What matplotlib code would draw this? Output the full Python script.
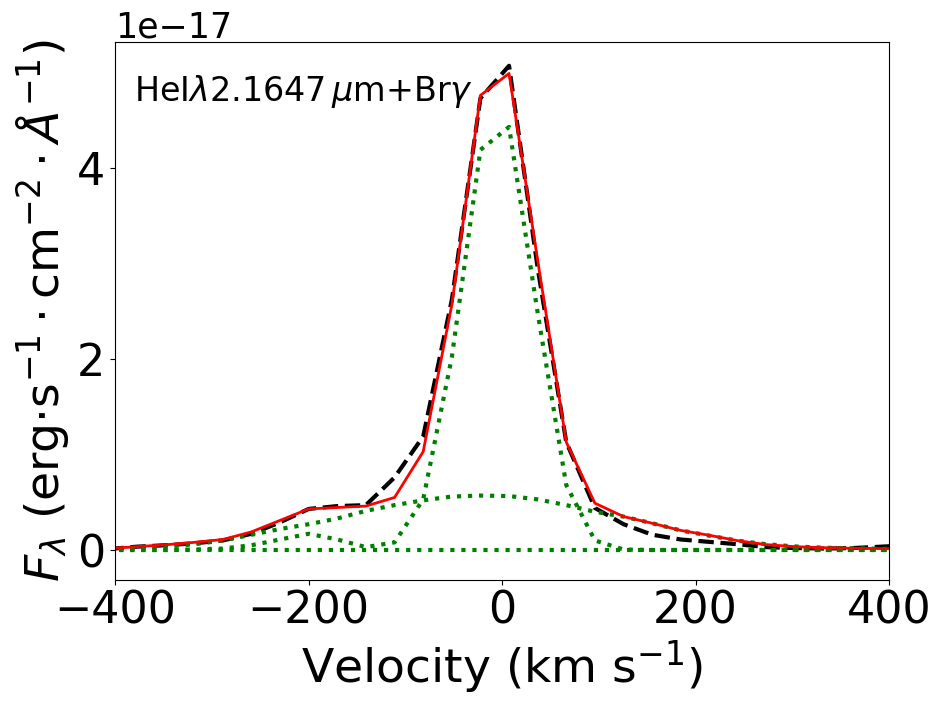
import numpy as np
import matplotlib
matplotlib.use('Agg')
import matplotlib.pyplot as plt

# velocity channels (km/s)
vel = [-406.8, -377.2, -347.6, -318.1, -288.5, -258.9, -229.4, -199.8, -170.2, -140.7,
       -111.1, -81.5, -51.9, -22.4, 7.2, 36.8, 66.3, 95.9, 125.5, 155.1,
       184.6, 214.2, 243.8, 273.3, 302.9, 332.5, 362.0, 391.6, 421.2]

# fluxes in units of 1e-17 erg/s/cm2/A
obs = [0.01, 0.035, 0.05, 0.07, 0.10, 0.17, 0.29, 0.43, 0.46, 0.47,
       0.76, 1.19, 2.62, 4.73, 5.07, 2.95, 1.13, 0.44, 0.27, 0.16,
       0.11, 0.085, 0.06, 0.03, 0.02, 0.015, 0.02, 0.035, 0.05]
fit = [0.015, 0.035, 0.055, 0.08, 0.11, 0.19, 0.31, 0.43, 0.445, 0.46,
       0.55, 1.03, 2.57, 4.76, 4.99, 3.03, 1.13, 0.49, 0.35, 0.28,
       0.205, 0.154, 0.097, 0.056, 0.035, 0.024, 0.018, 0.015, 0.01]
narrow = [0.0, 0.0, 0.0, 0.005, 0.015, 0.05, 0.11, 0.17, 0.11, 0.03,
          0.08, 0.53, 2.02, 4.19, 4.43, 2.48, 0.68, 0.10, 0.005, 0.0,
          0.0, 0.0, 0.0, 0.0, 0.0, 0.0, 0.0, 0.0, 0.0]
broad = [0.01, 0.02, 0.035, 0.06, 0.10, 0.16, 0.22, 0.27, 0.33, 0.41,
         0.47, 0.52, 0.56, 0.57, 0.565, 0.53, 0.47, 0.40, 0.35, 0.28,
         0.205, 0.15, 0.097, 0.06, 0.037, 0.024, 0.018, 0.013, 0.01]
extra = [0.0, 0.0, 0.0, 0.0, 0.0, 0.0, 0.0, 0.0, 0.0, 0.0,
         0.0, 0.0, 0.0, 0.0, 0.0, 0.0, 0.0, 0.0, 0.0, 0.0,
         0.0, 0.0, 0.0, 0.0, 0.0, 0.0, 0.0, 0.0, 0.0]

scale = 1e-17

fig = plt.figure(figsize=(9.42, 7.08), dpi=100)
ax = fig.add_axes([0.122, 0.1808, 0.822, 0.76])

ax.plot(vel, np.array(obs) * scale, 'k--', lw=3)
for comp in [narrow, broad, extra]:
    ax.plot(vel, np.array(comp) * scale, 'g:', lw=3)
ax.plot(vel, np.array(fit) * scale, 'r-', lw=2)

ax.set_xlim(-400, 400)
ax.set_ylim(-0.314 * scale, 5.32 * scale)
ax.set_yticks([0, 2e-17, 4e-17])
ax.tick_params(labelsize=32)
ax.yaxis.get_offset_text().set_fontsize(25)

ax.set_xlabel(r'Velocity (km s$^{-1}$)', fontsize=34)
ax.set_ylabel(r'$F_\lambda$ (erg$\cdot$s$^{-1}\cdot$cm$^{-2}\cdot\AA^{-1}$)', fontsize=34)

ax.text(0.025, 0.907, r'HeI$\lambda2.1647\,\mu$m+Br$\gamma$', transform=ax.transAxes,
        fontsize=24, va='center', ha='left')

plt.savefig('out.png')
